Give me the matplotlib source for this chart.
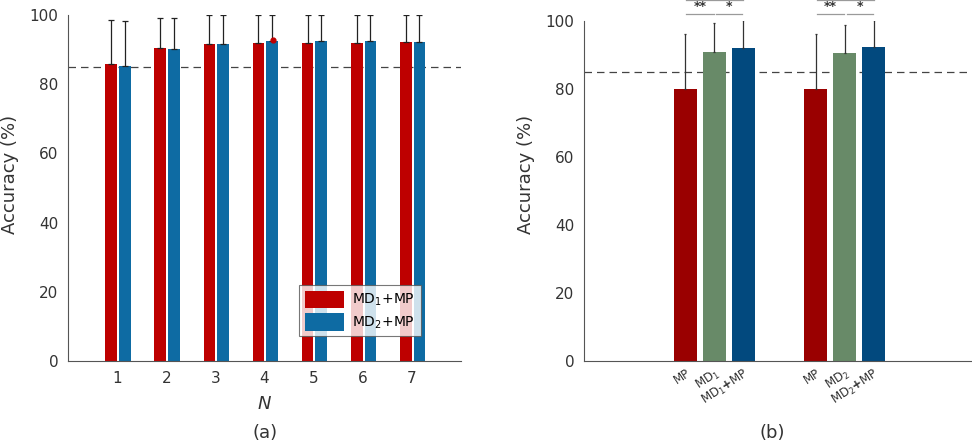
import matplotlib
matplotlib.use("Agg")
import matplotlib.pyplot as plt
import numpy as np

# ---------------- data ----------------
N = [1, 2, 3, 4, 5, 6, 7]
md1_mp = [86.0, 90.6, 91.7, 91.9, 92.0, 92.0, 92.2]
md1_mp_err = [12.6, 8.5, 8.3, 8.1, 8.0, 8.0, 7.8]
md2_mp = [85.3, 90.2, 91.7, 92.6, 92.4, 92.4, 92.2]
md2_mp_err = [13.1, 8.9, 8.3, 7.4, 7.6, 7.6, 7.8]
threshold = 85.0
stray_dot_x = [4.17]
stray_dot_y = [92.8]

b_labels = ["MP", "MD$_1$", "MD$_1$$\\mathbf{+}$MP", "MP", "MD$_2$", "MD$_2$$\\mathbf{+}$MP"]
b_values = [80.0, 90.8, 91.9, 80.0, 90.5, 92.4]
b_err = [16.2, 8.4, 8.3, 16.2, 8.2, 7.8]
b_pos = [3.5, 4.5, 5.5, 8.0, 9.0, 10.0]
b_sig = ["**", "*", "**", "*"]

# ---------------- style ----------------
plt.rcParams['font.family'] = ['DejaVu Sans']
txt = '#333333'
spine_c = '#555555'
red_a = '#BE0000'
blue_a = '#0E6BA3'
red_b = '#9A0000'
green_b = '#688A68'
blue_b = '#02497E'

fig = plt.figure(figsize=(9.72, 4.46), dpi=100)

# ---------------- panel (a) ----------------
axa = fig.add_axes([0.070, 0.1906, 0.404, 0.7754])
w = 0.24
xr = np.array(N) - 0.12
xb = np.array(N) + 0.16
axa.bar(xr, md1_mp, width=w, color=red_a, label='MD$_1$+MP', zorder=2)
axa.bar(xb, md2_mp, width=w, color=blue_a, label='MD$_2$+MP', zorder=2)
axa.errorbar(xr, md1_mp, yerr=[np.zeros(len(N)), md1_mp_err], fmt='none',
             ecolor='#222222', elinewidth=0.9, capsize=2.5, capthick=0.9, zorder=3)
axa.errorbar(xb, md2_mp, yerr=[np.zeros(len(N)), md2_mp_err], fmt='none',
             ecolor='#222222', elinewidth=0.9, capsize=2.5, capthick=0.9, zorder=3)
axa.scatter(stray_dot_x, stray_dot_y, s=12, color=red_a, zorder=4)
axa.axhline(threshold, color='#444444', lw=0.9, ls=(0, (6, 4)), zorder=1)
axa.set_xlim(0, 8)
axa.set_ylim(0, 100)
axa.set_xticks(N)
axa.set_xticklabels([str(n) for n in N])
axa.set_yticks([0, 20, 40, 60, 80, 100])
axa.set_xlabel('$N$', fontsize=13, color=txt, labelpad=7)
axa.set_ylabel('Accuracy (%)', fontsize=13, color=txt)
axa.yaxis.set_label_coords(-0.125, 0.538)
axa.tick_params(axis='both', labelsize=11, colors=txt, length=0, pad=7)
for s in ['top', 'right']:
    axa.spines[s].set_visible(False)
for s in ['left', 'bottom']:
    axa.spines[s].set_color(spine_c)
leg = axa.legend(loc='lower right', bbox_to_anchor=(0.898, 0.072), fontsize=10,
                 frameon=True, fancybox=False, edgecolor='#555555',
                 handlelength=2.8, handleheight=1.6, borderpad=0.4,
                 labelspacing=0.3, handletextpad=0.6, borderaxespad=0)
leg.get_frame().set_linewidth(0.8)
fig.text(0.273, 0.018, '(a)', fontsize=13, color=txt, ha='center')

# ---------------- panel (b) ----------------
axb = fig.add_axes([0.601, 0.1906, 0.399, 0.763])
cols = [red_b, green_b, blue_b, red_b, green_b, blue_b]
axb.bar(b_pos, b_values, width=0.8, color=cols, zorder=2)
axb.errorbar(b_pos, b_values, yerr=[np.zeros(len(b_pos)), b_err], fmt='none',
             ecolor='#333333', elinewidth=0.9, capsize=1, capthick=0.9, zorder=3)
axb.axhline(threshold, color='#444444', lw=0.9, ls=(0, (6, 4)), zorder=1)
axb.set_xlim(0, 13.4)
axb.set_ylim(0, 100)
axb.set_yticks([0, 20, 40, 60, 80, 100])
axb.set_xticks(b_pos)
axb.set_xticklabels(b_labels, rotation=33, ha='right', rotation_mode='anchor',
                    fontsize=8.5)
axb.set_ylabel('Accuracy (%)', fontsize=13, color=txt)
axb.yaxis.set_label_coords(-0.126, 0.547)
axb.tick_params(axis='y', labelsize=11, colors=txt, length=0, pad=7)
axb.tick_params(axis='x', colors=txt, length=0, pad=4)
for s in ['top', 'right']:
    axb.spines[s].set_visible(False)
for s in ['left', 'bottom']:
    axb.spines[s].set_color(spine_c)

# significance brackets
sig_c = '#9a9a9a'
pairs = [(0, 1), (1, 2), (3, 4), (4, 5)]
for (i, j), s in zip(pairs, b_sig):
    x0 = b_pos[i] + (0.03 if s == '**' else 0.07)
    x1 = b_pos[j] - 0.03
    axb.plot([x0, x1], [102.0, 102.0], color=sig_c, lw=0.9, clip_on=False)
    axb.text((x0 + x1) / 2, 102.3, s, ha='center', va='bottom', fontsize=9,
             fontweight='bold', color='#333333', clip_on=False)
for g in (0, 3):
    axb.plot([b_pos[g] + 0.03, b_pos[g + 2]], [106.0, 106.0], color=sig_c, lw=0.9,
             clip_on=False)
fig.text(0.794, 0.018, '(b)', fontsize=13, color=txt, ha='center')

fig.savefig('out.png', dpi=100)
